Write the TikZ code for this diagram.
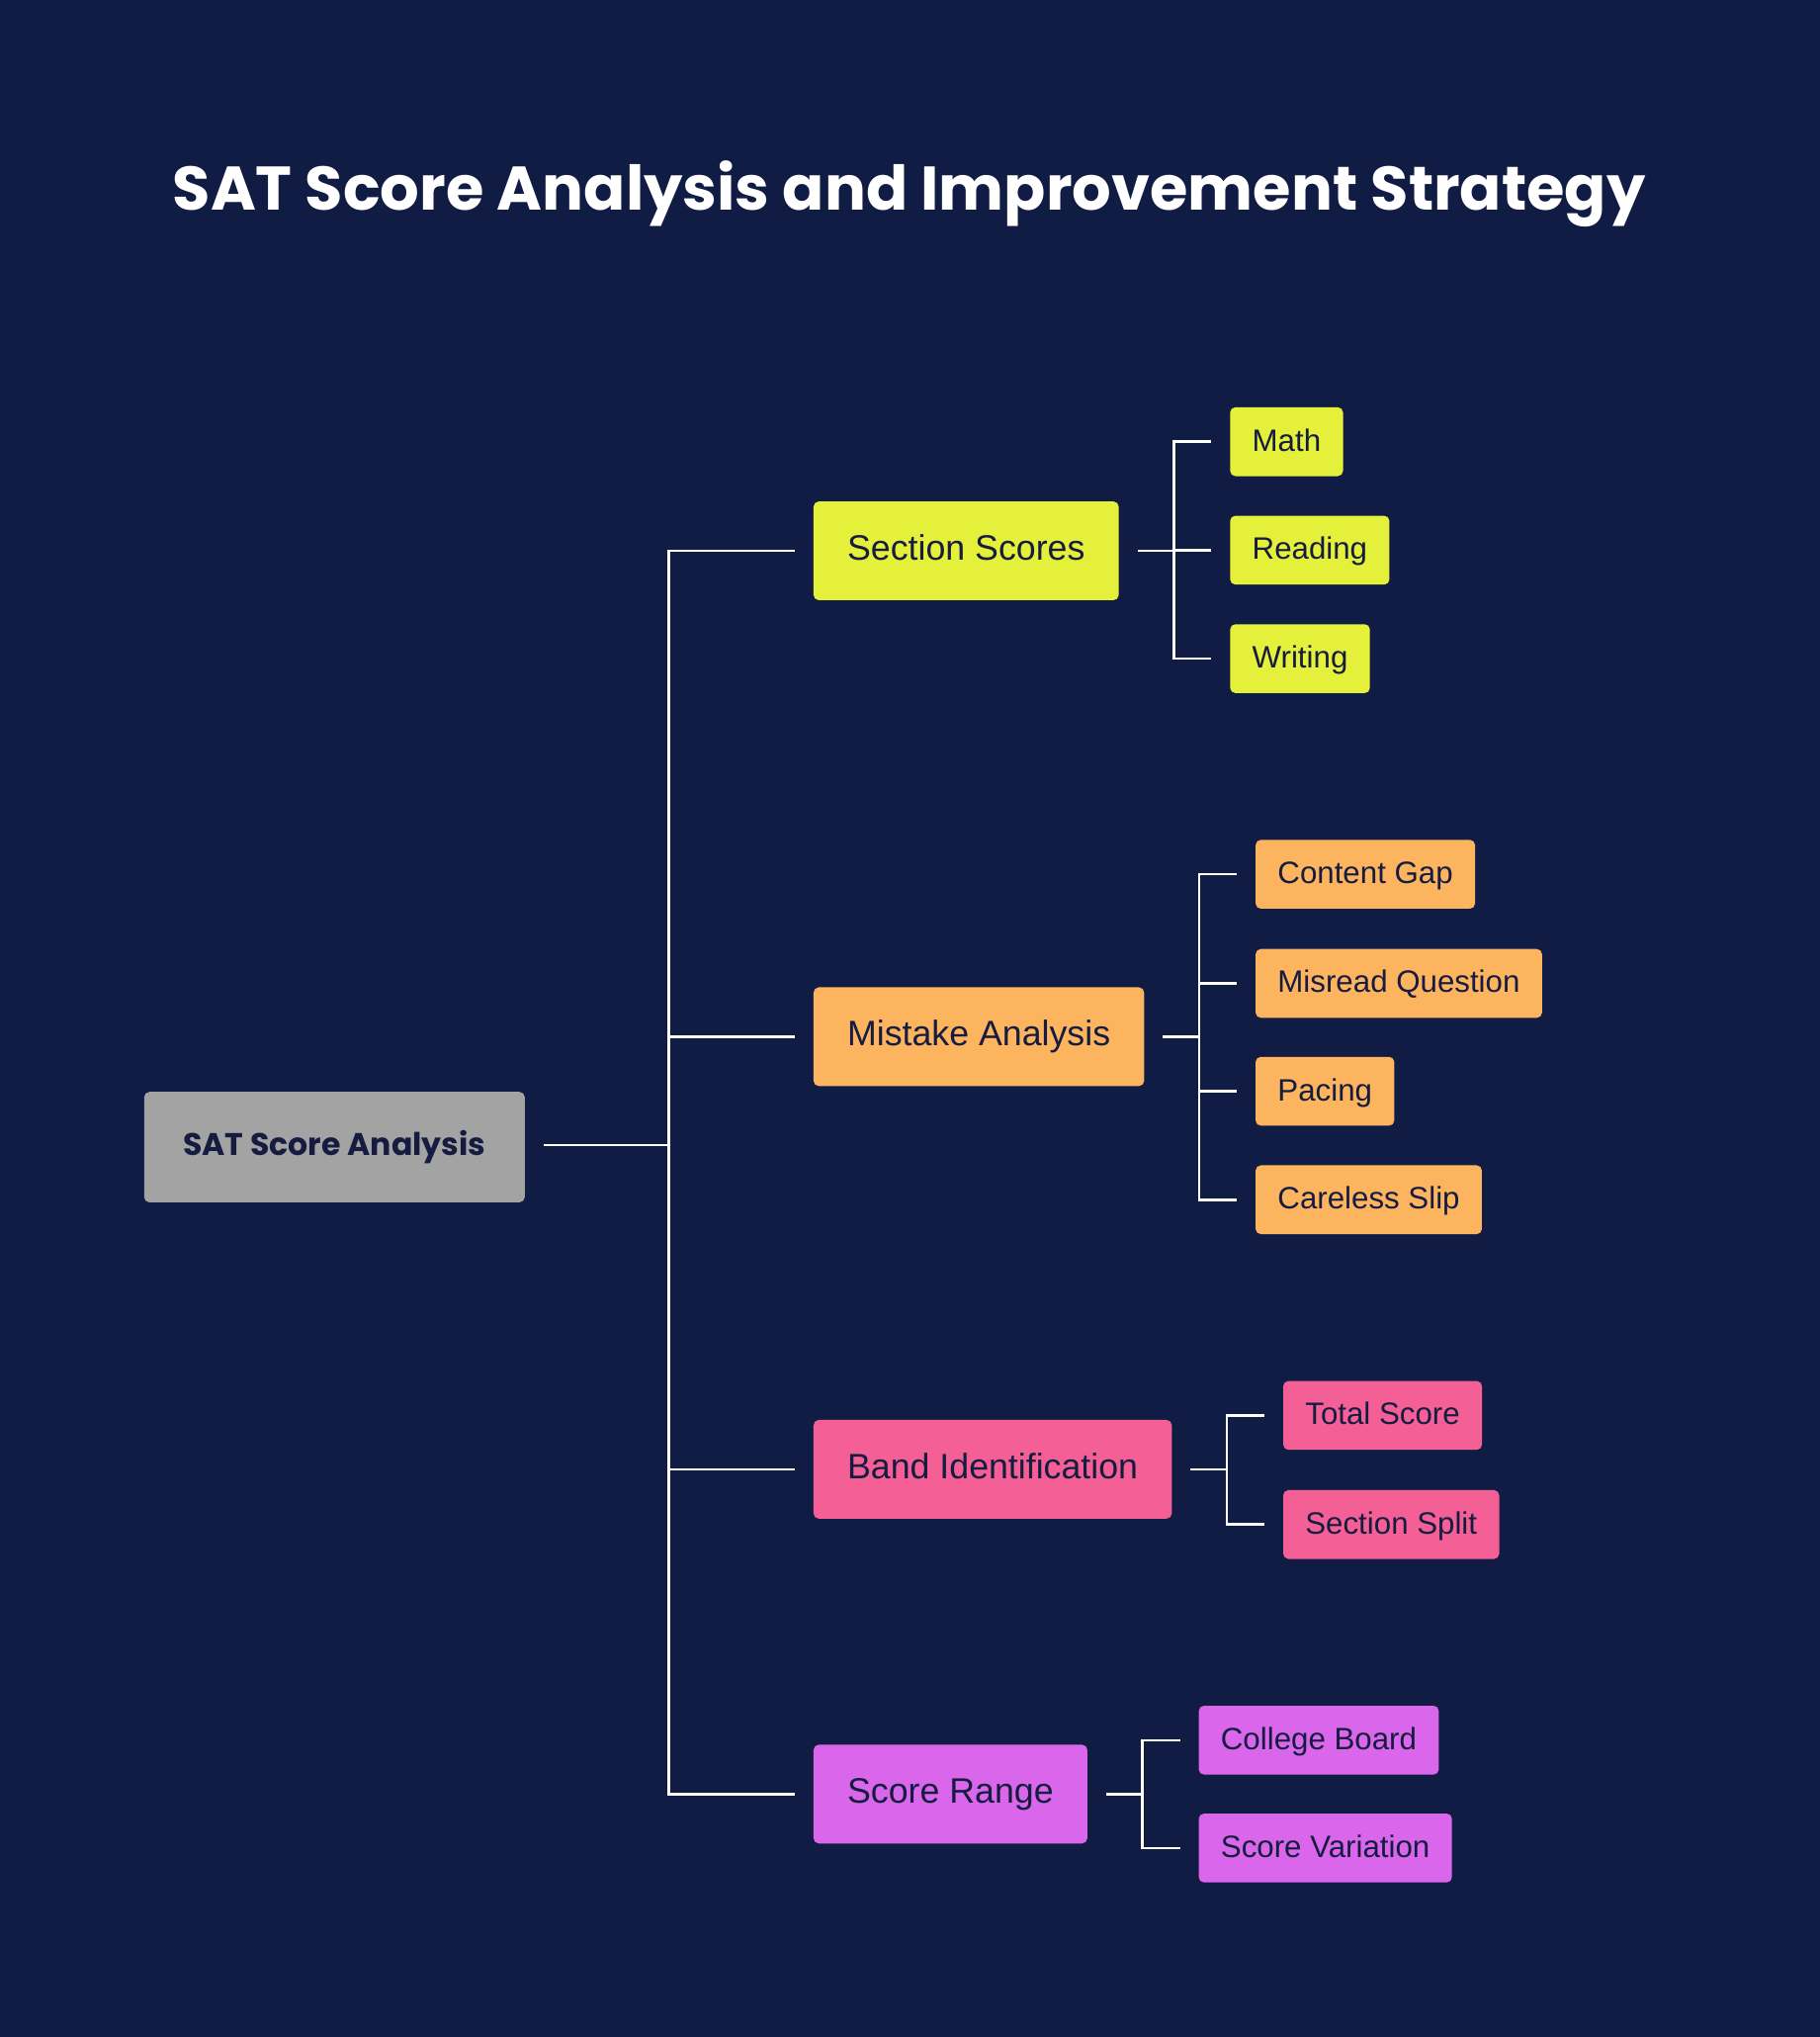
\documentclass[tikz,border=0pt]{standalone}
\usepackage{graphicx}
\usepackage{fontspec}
\setmainfont{Liberation Sans}
\newfontfamily\headfont{Poppins}
\usepackage{tikz}
\usetikzlibrary{positioning}
\definecolor{bgnavy}{HTML}{111C45}
\definecolor{inknavy}{HTML}{151C40}
\definecolor{rootgray}{HTML}{A3A3A3}
\definecolor{seclime}{HTML}{E5F03A}
\definecolor{mistorange}{HTML}{FDB45E}
\definecolor{bandpink}{HTML}{F45F96}
\definecolor{rangeviolet}{HTML}{D966EB}
\tikzset{
  rootbox/.style={
      rectangle,
      rounded corners=2pt,
      minimum width=146.5pt,
      minimum height=42.5pt,
      fill=rootgray,
      text=inknavy,
      font=\headfont\bfseries
  },
  topic/.style={
      rectangle,
      anchor=west,
      rounded corners=2pt,
      inner xsep=13pt,
      minimum height=38pt,
      text height=.72em,
      text depth=0pt,
      text=inknavy,
      font=\fontsize{13.6}{16}\selectfont
  },
  leaf/.style={
      rectangle,
      anchor=west,
      rounded corners=2pt,
      inner xsep=8.5pt,
      minimum height=26.5pt,
      text height=.72em,
      text depth=0pt,
      text=inknavy,
      font=\fontsize{11.9}{14}\selectfont
  },
  link/.style={white, line width=1pt, line cap=rect}
}
\begin{document}
\begin{tikzpicture}[x=0.5pt,y=-0.5pt]
    \fill[bgnavy] (0,0) rectangle (1401,1568);
    \node[text=white, font=\headfont\bfseries] (title) at (700,149)
      {\resizebox{567pt}{!}{SAT Score Analysis and Improvement Strategy}};
    % root and main branches
    \node[rootbox] (root) at (257.5,883) {\resizebox{116.5pt}{!}{SAT Score Analysis}};
    \node[topic, fill=seclime] (section) at (626,424) {Section Scores};
    \node[topic, fill=mistorange] (mistake) at (626,798) {Mistake Analysis};
    \node[topic, fill=bandpink] (band) at (626,1131) {Band Identification};
    \node[topic, fill=rangeviolet] (range) at (626,1381) {Score Range};
    \coordinate (trunk) at (515,881.5);
    \draw[link, shorten <=7.5pt] (root.east |- trunk) -- (trunk);
    \draw[link] (trunk |- section.west) -- (trunk |- range.west);
    \foreach \t in {section,mistake,band,range}
      \draw[link, shorten >=7.5pt] (trunk |- \t.west) -- (\t.west);
    % section scores
    \coordinate (secx) at ([xshift=42.5pt]section.east);
    \node[leaf, fill=seclime] (math) at (secx |- 0,340) {Math};
    \node[leaf, fill=seclime] (reading) at (secx |- 0,423.5) {Reading};
    \node[leaf, fill=seclime] (writing) at (secx |- 0,507) {Writing};
    % mistake analysis
    \coordinate (mistx) at ([xshift=42.5pt]mistake.east);
    \node[leaf, fill=mistorange] (content) at (mistx |- 0,673) {Content Gap};
    \node[leaf, fill=mistorange] (misread) at (mistx |- 0,757) {Misread Question};
    \node[leaf, fill=mistorange] (pacing) at (mistx |- 0,840) {Pacing};
    \node[leaf, fill=mistorange] (careless) at (mistx |- 0,923.5) {Careless Slip};
    % band identification
    \coordinate (bandx) at ([xshift=42.5pt]band.east);
    \node[leaf, fill=bandpink] (total) at (bandx |- 0,1089.5) {Total Score};
    \node[leaf, fill=bandpink] (split) at (bandx |- 0,1173.5) {Section Split};
    % score range
    \coordinate (rangex) at ([xshift=42.5pt]range.east);
    \node[leaf, fill=rangeviolet] (board) at (rangex |- 0,1339.5) {College Board};
    \node[leaf, fill=rangeviolet] (variation) at (rangex |- 0,1422.5) {Score Variation};
    % child connectors
    \foreach \p/\first/\last/\kids in {section/math/writing/{math,reading,writing},
        mistake/content/careless/{content,misread,pacing,careless},
        band/total/split/{total,split},
        range/board/variation/{board,variation}} {
      \coordinate (\p join) at ([xshift=21pt]\p.east);
      \draw[link, shorten <=7.5pt] (\p.east) -- (\p join);
      \draw[link] (\p join |- \first.west) -- (\p join |- \last.west);
      \foreach \c in \kids
        \draw[link, shorten >=7.5pt] (\p join |- \c.west) -- (\c.west);
    }
\end{tikzpicture}
\end{document}
